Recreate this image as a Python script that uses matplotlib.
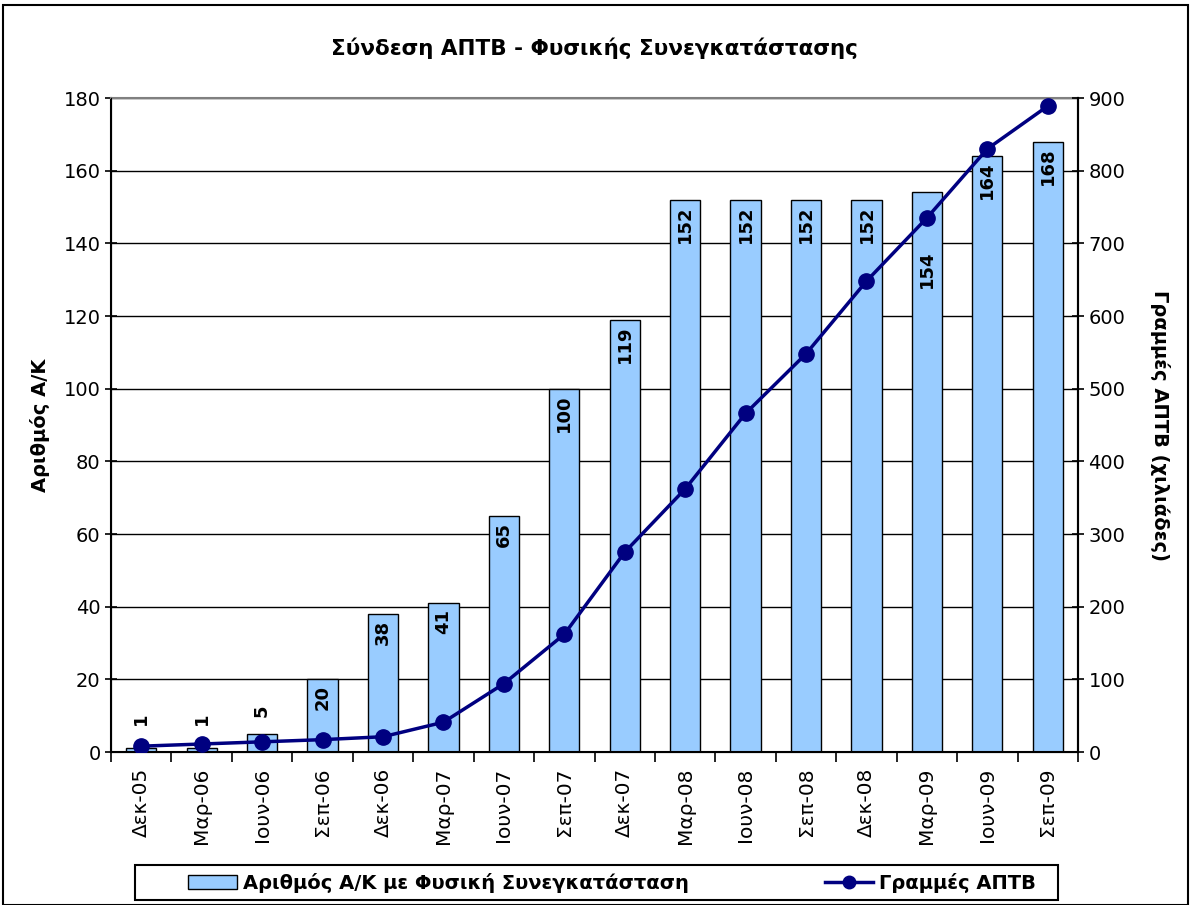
import matplotlib
matplotlib.use("Agg")
import matplotlib.pyplot as plt
import numpy as np
from matplotlib.patches import Rectangle, Patch
from matplotlib.lines import Line2D

categories = ["Δεκ-05", "Μαρ-06", "Ιουν-06", "Σεπ-06", "Δεκ-06", "Μαρ-07", "Ιουν-07", "Σεπ-07",
              "Δεκ-07", "Μαρ-08", "Ιουν-08", "Σεπ-08", "Δεκ-08", "Μαρ-09", "Ιουν-09", "Σεπ-09"]
bars = [1, 1, 5, 20, 38, 41, 65, 100, 119, 152, 152, 152, 152, 154, 164, 168]
lines = [8, 11, 14, 17, 21, 41, 94, 162, 275, 362, 466, 548, 648, 735, 830, 889]
bar_name = "Αριθμός Α/Κ με Φυσική Συνεγκατάσταση"
line_name = "Γραμμές ΑΠΤΒ"
title = "Σύνδεση ΑΠΤΒ - Φυσικής Συνεγκατάστασης"
left_label = "Αριθμός Α/Κ"
right_label = "Γραμμές ΑΠΤΒ (χιλιάδες)"

plt.rcParams['font.family'] = ['DejaVu Sans']

W, H = 1192, 905
fig = plt.figure(figsize=(W / 100, H / 100), dpi=100)
fig.patches.append(Rectangle((3 / W, 0), (W - 7) / W, (H - 5) / H, transform=fig.transFigure,
                             fill=False, edgecolor='black', linewidth=1.5))

L, R, T, B = 111, 1078, 98, 752
ax = fig.add_axes([L / W, 1 - B / H, (R - L) / W, (B - T) / H])
x = np.arange(len(categories))
ax.bar(x, bars, width=0.5, color='#99CCFF', edgecolor='black', linewidth=1.0, zorder=2)
ax.set_xlim(-0.5, len(categories) - 0.5)
ax.set_ylim(0, 180)
ax.set_yticks(np.arange(0, 181, 20))
ax.yaxis.grid(True, color='black', linewidth=1.0, zorder=0)
ax.set_axisbelow(True)
ax.set_xticks(x)
ax.set_xticklabels(categories, rotation=90, fontsize=14.5)
ax.tick_params(axis='x', length=0, pad=11)
ax.set_xticks(np.arange(-0.5, len(categories), 1), minor=True)
ax.tick_params(axis='x', which='minor', length=7, width=1.2, direction='out')
ax.tick_params(axis='y', labelsize=14, direction='inout', length=8, width=1.2)
for s in ['left', 'bottom', 'right']:
    ax.spines[s].set_linewidth(1.5)
ax.spines['top'].set_color('#808080')
ax.spines['top'].set_linewidth(1.5)
ax.set_ylabel(left_label, fontsize=14, fontweight='bold', labelpad=10)

for i, v in enumerate(bars):
    if v < 10:
        ax.text(i, max(v + 4.5, 7.5), str(v), rotation=90, ha='center', va='bottom',
                fontsize=13, fontweight='bold', zorder=5)
    elif i == 13:
        ax.text(i, v - 16, str(v), rotation=90, ha='center', va='top', fontsize=13,
                fontweight='bold', zorder=5)
    else:
        ax.text(i, v - 1.6, str(v), rotation=90, ha='center', va='top', fontsize=13,
                fontweight='bold', zorder=5)

ax2 = ax.twinx()
ax2.plot(x, lines, color='#000080', linewidth=2.5, marker='o', markersize=11, zorder=4)
ax2.set_ylim(0, 900)
ax2.set_yticks(np.arange(0, 901, 100))
ax2.tick_params(axis='y', labelsize=14, direction='inout', length=8, width=1.2)
ax2.spines['right'].set_linewidth(1.5)
ax2.spines['top'].set_visible(False)
ax2.set_ylabel(right_label, fontsize=14, fontweight='bold', rotation=270, labelpad=32)

fig.text((L + R) / 2 / W, 1 - 48 / H, title, ha='center', va='center', fontsize=15.5, fontweight='bold')

# legend frame
fig.patches.append(Rectangle((135 / W, 1 - 900 / H), (1058 - 135) / W, 35 / H, transform=fig.transFigure,
                             fill=True, facecolor='white', edgecolor='black', linewidth=1.5, zorder=1))
handles = [Patch(facecolor='#99CCFF', edgecolor='black'),
           Line2D([0], [0], color='#000080', linewidth=2.5, marker='o', markersize=9)]
leg = fig.legend(handles, [bar_name, line_name], loc='center', bbox_to_anchor=(612 / W, 1 - 883 / H),
                 ncol=2, frameon=False, columnspacing=7.0,
                 prop={'weight': 'bold', 'size': 14}, handlelength=2.5, handletextpad=0.3,
                 borderpad=0.0, borderaxespad=0)
leg.set_zorder(5)

fig.savefig("out.png", dpi=100)
